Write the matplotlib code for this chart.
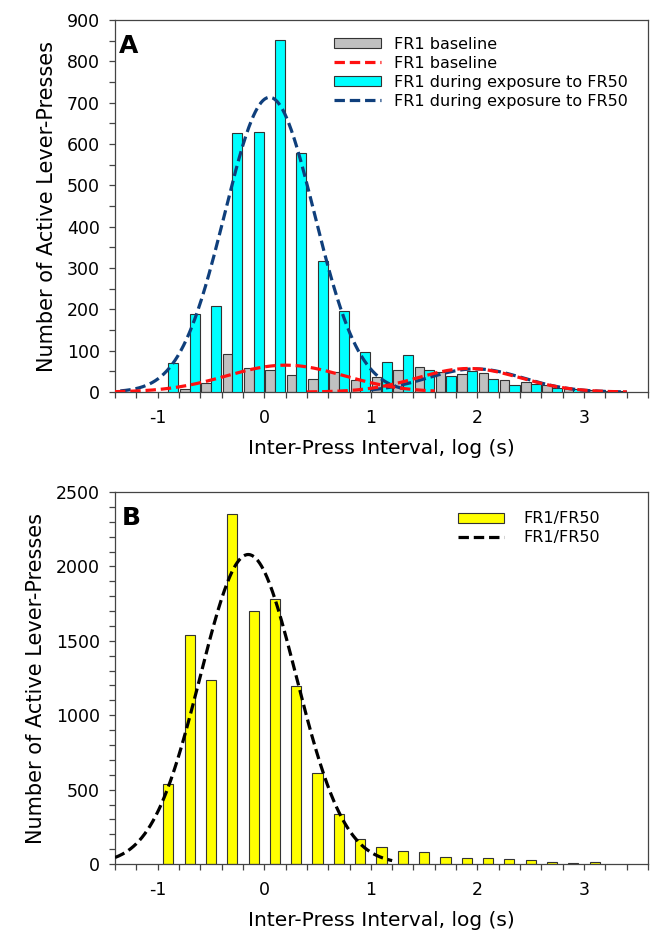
import numpy as np
import matplotlib
matplotlib.use("Agg")
import matplotlib.pyplot as plt
from matplotlib.patches import Patch
from matplotlib.lines import Line2D

plt.rcParams['font.family'] = ['DejaVu Sans']
plt.rcParams['lines.scale_dashes'] = False
plt.rcParams['axes.unicode_minus'] = False

# ---------------- data ----------------
# Panel A: bin centres (log s) and counts
bins_a = [-0.9, -0.7, -0.5, -0.3, -0.1, 0.1, 0.3, 0.5, 0.7, 0.9, 1.1, 1.3,
          1.5, 1.7, 1.9, 2.1, 2.3, 2.5, 2.7, 2.9, 3.1, 3.3]
baseline_counts = [0, 8, 22, 91, 57, 54, 42, 32, 48, 30, 36, 54,
                   60, 48, 44, 47, 30, 24, 16, 10, 5, 3]
exposure_counts = [70, 190, 209, 626, 630, 851, 579, 318, 195, 97, 72, 90,
                   54, 40, 52, 32, 18, 20, 10, 8, 4, 2]

# Gaussian fits: (amplitude, mean, sd, x_start, x_end)
baseline_fits = [(65, 0.20, 0.55, -1.40, 1.60),
                 (57, 1.92, 0.48, 0.40, 3.40)]
exposure_fits = [(713, 0.05, 0.42, -1.35, 1.30),
                 (56, 1.98, 0.45, 1.00, 3.40)]

# Panel B
bins_b = [-0.9, -0.7, -0.5, -0.3, -0.1, 0.1, 0.3, 0.5, 0.7, 0.9, 1.1, 1.3,
          1.5, 1.7, 1.9, 2.1, 2.3, 2.5, 2.7, 2.9, 3.1]
ratio_counts = [537, 1538, 1235, 2355, 1701, 1784, 1195, 609, 334, 168, 112, 87,
                78, 47, 43, 40, 34, 25, 11, 9, 16]
ratio_fits = [(2080, -0.15, 0.45, -1.40, 1.20)]

x_major = [-1, 0, 1, 2, 3]
xlabel = "Inter-Press Interval, log (s)"
ylabel = "Number of Active Lever-Presses"

# ---------------- style ----------------
GRAY = "#c0c0c0"
CYAN = "#00ffff"
YELLOW = "#ffff00"
RED = "#ff1010"
NAVY = "#0f3f7c"
EDGE = "#333333"
DASH = (7.5, 3.5)
LW = 2.3


def gauss_curve(ax, fit, color):
    a, m, s, x0, x1 = fit
    xs = np.linspace(x0, x1, 300)
    ys = a * np.exp(-0.5 * ((xs - m) / s) ** 2)
    ax.plot(xs, ys, color=color, lw=LW, dashes=DASH, zorder=4)


def style_axis(ax, ymax, ymajor, yminor):
    ax.set_xlim(-1.4, 3.6)
    ax.set_ylim(0, ymax)
    ax.set_xticks(x_major)
    ax.set_xticks(np.arange(-1.4, 3.61, 0.2), minor=True)
    ax.set_yticks(np.arange(0, ymax + 1, ymajor))
    ax.set_yticks(np.arange(0, ymax + 1, yminor), minor=True)
    ax.tick_params(which='both', direction='out', length=4, width=0.9,
                   color='#444444', labelsize=12.5)
    ax.tick_params(axis='y', which='both', pad=7)
    ax.tick_params(axis='x', which='both', pad=8)
    for sp in ax.spines.values():
        sp.set_linewidth(0.9)
        sp.set_color('#444444')
    ax.set_xlabel(xlabel, fontsize=14.5, labelpad=9)
    ax.set_ylabel(ylabel, fontsize=15, labelpad=7)


fig = plt.figure(figsize=(6.56, 9.44), dpi=100)
axA = fig.add_axes([0.1753, 0.5847, 0.8125, 0.3941])
axB = fig.add_axes([0.1753, 0.0847, 0.8125, 0.3941])

# ---- Panel A ----
bins_arr = np.array(bins_a)
axA.bar(bins_arr - 0.045, baseline_counts, width=0.09, color=GRAY,
        edgecolor=EDGE, linewidth=0.8, zorder=2)
axA.bar(bins_arr + 0.048, exposure_counts, width=0.095, color=CYAN,
        edgecolor=EDGE, linewidth=0.8, zorder=3)
for f in exposure_fits:
    gauss_curve(axA, f, NAVY)
for f in baseline_fits:
    gauss_curve(axA, f, RED)
style_axis(axA, 900, 100, 50)
axA.text(0.008, 0.911, "A", transform=axA.transAxes, fontsize=18,
         fontweight='bold', va='baseline', ha='left')

handlesA = [Patch(facecolor=GRAY, edgecolor=EDGE, linewidth=0.8),
            Line2D([], [], color=RED, lw=LW, dashes=DASH),
            Patch(facecolor=CYAN, edgecolor=EDGE, linewidth=0.8),
            Line2D([], [], color=NAVY, lw=LW, dashes=DASH)]
labelsA = ["FR1 baseline", "FR1 baseline",
           "FR1 during exposure to FR50", "FR1 during exposure to FR50"]
axA.legend(handlesA, labelsA, loc='upper left', bbox_to_anchor=(0.41, 0.955),
           frameon=False, fontsize=11.5, handlelength=3.0, handleheight=0.6,
           handletextpad=0.8, labelspacing=0.25, borderpad=0, borderaxespad=0)

# ---- Panel B ----
axB.bar(bins_b, ratio_counts, width=0.095, color=YELLOW, edgecolor=EDGE,
        linewidth=0.8, zorder=2)
for f in ratio_fits:
    gauss_curve(axB, f, "black")
style_axis(axB, 2500, 500, 100)
axB.text(0.012, 0.911, "B", transform=axB.transAxes, fontsize=18,
         fontweight='bold', va='baseline', ha='left')
handlesB = [Patch(facecolor=YELLOW, edgecolor=EDGE, linewidth=0.8),
            Line2D([], [], color="black", lw=LW, dashes=DASH)]
axB.legend(handlesB, ["FR1/FR50", "FR1/FR50"], loc='upper left',
           bbox_to_anchor=(0.643, 0.948), frameon=False, fontsize=11.5,
           handlelength=2.9, handleheight=0.6, handletextpad=1.2,
           labelspacing=0.25, borderpad=0, borderaxespad=0)

fig.savefig("out.png", dpi=100)
